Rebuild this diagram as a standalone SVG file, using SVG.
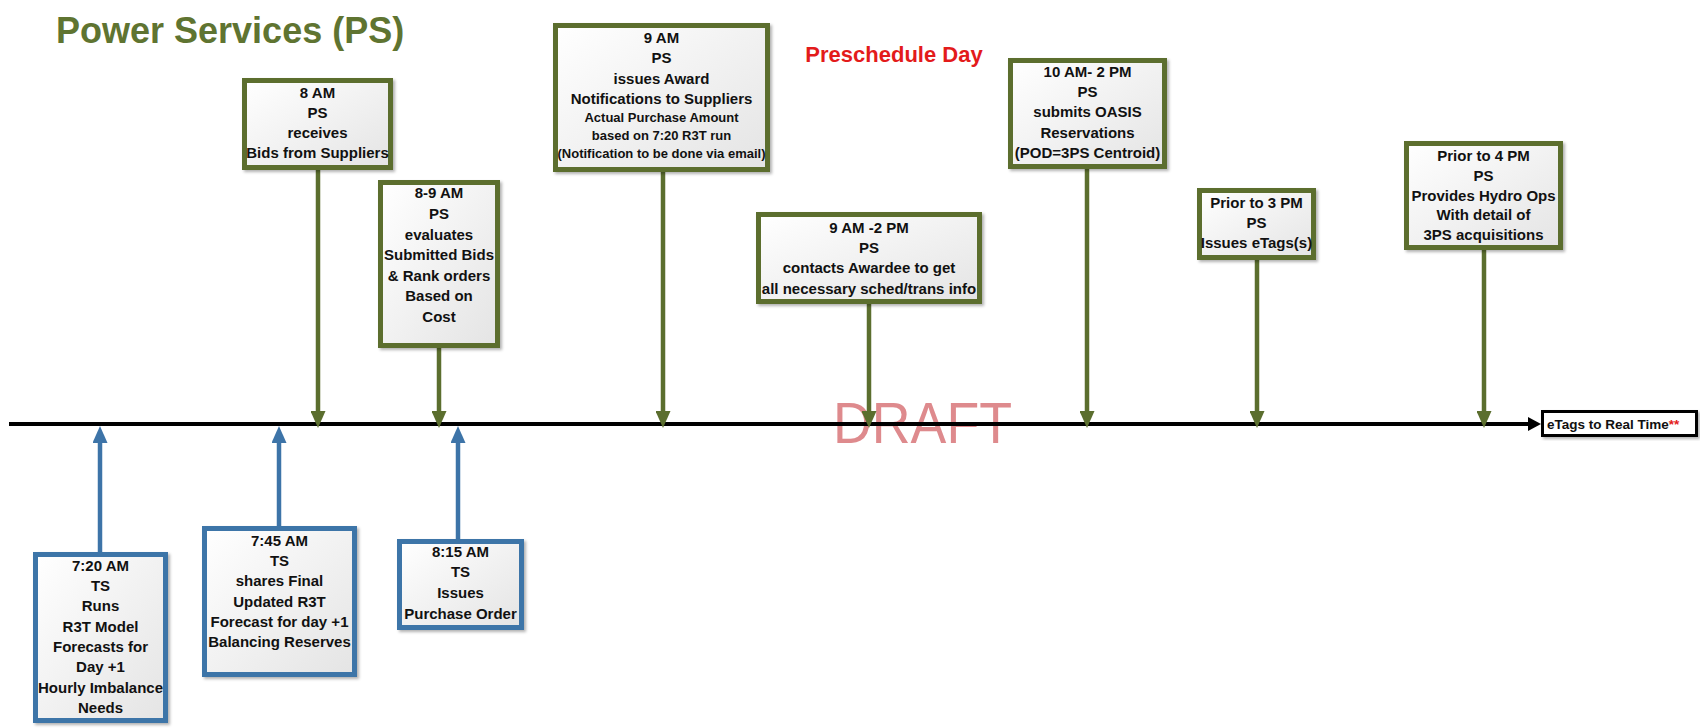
<svg xmlns="http://www.w3.org/2000/svg" width="1700" height="728" viewBox="0 0 1700 728">
<style>
  .title{font-family:"Liberation Sans",Arial,sans-serif;font-weight:bold;font-size:36px;fill:#5F7431}
  .pre{font-family:"Liberation Sans",Arial,sans-serif;font-weight:bold;font-size:22px;fill:#E31B1B}
  .draft{font-family:"Liberation Sans",Arial,sans-serif;font-size:57px;fill:#DB7E81;opacity:0.9}
  .gbox{fill:url(#fillG);stroke:#5B6E2E;stroke-width:5;filter:url(#sh)}
  .bbox{fill:url(#fillG);stroke:#3D74A8;stroke-width:5;filter:url(#sh)}
  .t{font-family:"Liberation Sans",Arial,sans-serif;font-weight:bold;font-size:15px;fill:#111;text-anchor:middle}
  .s{font-size:13px}
  .gl{stroke:#5B6E2E;stroke-width:4.5;fill:none;marker-end:url(#ag)}
  .bl{stroke:#3D74A8;stroke-width:4.5;fill:none;marker-end:url(#ab)}
  .tl{stroke:#000;stroke-width:4;fill:none;marker-end:url(#ak)}
  .ebox{fill:#fff;stroke:#000;stroke-width:3;filter:url(#sh)}
  .et{font-family:"Liberation Sans",Arial,sans-serif;font-weight:bold;font-size:13.5px;fill:#111}
</style>
<defs>
  <linearGradient id="fillG" x1="0" y1="0" x2="1" y2="1">
    <stop offset="0" stop-color="#ffffff"/>
    <stop offset="1" stop-color="#e4e4e4"/>
  </linearGradient>
  <filter id="sh" x="-10%" y="-10%" width="130%" height="130%">
    <feDropShadow dx="2" dy="2" stdDeviation="1.5" flood-color="#000" flood-opacity="0.3"/>
  </filter>
  <marker id="ag" markerUnits="userSpaceOnUse" markerWidth="17" markerHeight="15" refX="0" refY="7.5" orient="auto">
    <path d="M0,0 L17,7.5 L0,15 z" fill="#5B6E2E"/>
  </marker>
  <marker id="ab" markerUnits="userSpaceOnUse" markerWidth="17" markerHeight="15" refX="0" refY="7.5" orient="auto">
    <path d="M0,0 L17,7.5 L0,15 z" fill="#3D74A8"/>
  </marker>
  <marker id="ak" markerUnits="userSpaceOnUse" markerWidth="13" markerHeight="14" refX="0" refY="7" orient="auto">
    <path d="M0,0 L13,7 L0,14 z" fill="#000"/>
  </marker>
</defs>
<rect width="1700" height="728" fill="#fff"/>

<text class="title" x="56" y="43">Power Services (PS)</text>
<text class="pre" x="894" y="62" text-anchor="middle">Preschedule Day</text>
<text class="draft" x="833" y="443" textLength="179" lengthAdjust="spacingAndGlyphs">DRAFT</text>

<g id="connectors">
  <line class="tl" x1="9" y1="424" x2="1528" y2="424"/>
  <line class="gl" x1="318" y1="170" x2="318" y2="411"/>
  <line class="gl" x1="439" y1="348" x2="439" y2="411"/>
  <line class="gl" x1="663" y1="172" x2="663" y2="411"/>
  <line class="gl" x1="869" y1="304" x2="869" y2="411"/>
  <line class="gl" x1="1087" y1="169" x2="1087" y2="411"/>
  <line class="gl" x1="1257" y1="260" x2="1257" y2="411"/>
  <line class="gl" x1="1484" y1="250" x2="1484" y2="411"/>
  <line class="bl" x1="100" y1="552" x2="100" y2="443"/>
  <line class="bl" x1="279" y1="526" x2="279" y2="443"/>
  <line class="bl" x1="458" y1="539" x2="458" y2="443"/>
</g>

<g id="n-8am">
  <rect class="gbox" x="244.5" y="80.5" width="146" height="87"/>
  <text class="t" x="317.5" y="98">8 AM</text>
  <text class="t" x="317.5" y="118">PS</text>
  <text class="t" x="317.5" y="138">receives</text>
  <text class="t" x="317.5" y="158">Bids from Suppliers</text>
</g>

<g id="n-8-9am">
  <rect class="gbox" x="380.5" y="182.5" width="117" height="163"/>
  <text class="t" x="439" y="198">8-9 AM</text>
  <text class="t" x="439" y="219">PS</text>
  <text class="t" x="439" y="240">evaluates</text>
  <text class="t" x="439" y="260">Submitted Bids</text>
  <text class="t" x="439" y="281">&amp; Rank orders</text>
  <text class="t" x="439" y="301">Based on</text>
  <text class="t" x="439" y="322">Cost</text>
</g>

<g id="n-9am">
  <rect class="gbox" x="555.5" y="25.5" width="212" height="144"/>
  <text class="t" x="661.5" y="43">9 AM</text>
  <text class="t" x="661.5" y="63">PS</text>
  <text class="t" x="661.5" y="84">issues Award</text>
  <text class="t" x="661.5" y="104">Notifications to Suppliers</text>
  <text class="t s" x="661.5" y="122">Actual Purchase Amount</text>
  <text class="t s" x="661.5" y="140">based on 7:20 R3T run</text>
  <text class="t s" x="661.5" y="158">(Notification to be done via email)</text>
</g>

<g id="n-9am-2pm">
  <rect class="gbox" x="758.5" y="214.5" width="221" height="87"/>
  <text class="t" x="869" y="233">9 AM -2 PM</text>
  <text class="t" x="869" y="253">PS</text>
  <text class="t" x="869" y="273">contacts Awardee to get</text>
  <text class="t" x="869" y="294">all necessary sched/trans info</text>
</g>

<g id="n-10am-2pm">
  <rect class="gbox" x="1010.5" y="60.5" width="154" height="106"/>
  <text class="t" x="1087.5" y="77">10 AM- 2 PM</text>
  <text class="t" x="1087.5" y="97">PS</text>
  <text class="t" x="1087.5" y="117">submits OASIS</text>
  <text class="t" x="1087.5" y="138">Reservations</text>
  <text class="t" x="1087.5" y="158">(POD=3PS Centroid)</text>
</g>

<g id="n-prior3">
  <rect class="gbox" x="1199.5" y="190.5" width="114" height="67"/>
  <text class="t" x="1256.5" y="208">Prior to 3 PM</text>
  <text class="t" x="1256.5" y="228">PS</text>
  <text class="t" x="1256.5" y="248">Issues eTags(s)</text>
</g>

<g id="n-prior4">
  <rect class="gbox" x="1406.5" y="143.5" width="154" height="104"/>
  <text class="t" x="1483.5" y="161">Prior to 4 PM</text>
  <text class="t" x="1483.5" y="181">PS</text>
  <text class="t" x="1483.5" y="201">Provides Hydro Ops</text>
  <text class="t" x="1483.5" y="220">With detail of</text>
  <text class="t" x="1483.5" y="240">3PS acquisitions</text>
</g>

<g id="n-720">
  <rect class="bbox" x="35.5" y="554.5" width="130" height="166"/>
  <text class="t" x="100.5" y="571">7:20 AM</text>
  <text class="t" x="100.5" y="591">TS</text>
  <text class="t" x="100.5" y="611">Runs</text>
  <text class="t" x="100.5" y="632">R3T Model</text>
  <text class="t" x="100.5" y="652">Forecasts for</text>
  <text class="t" x="100.5" y="672">Day +1</text>
  <text class="t" x="100.5" y="693">Hourly Imbalance</text>
  <text class="t" x="100.5" y="713">Needs</text>
</g>

<g id="n-745">
  <rect class="bbox" x="204.5" y="528.5" width="150" height="146"/>
  <text class="t" x="279.5" y="546">7:45 AM</text>
  <text class="t" x="279.5" y="566">TS</text>
  <text class="t" x="279.5" y="586">shares Final</text>
  <text class="t" x="279.5" y="607">Updated R3T</text>
  <text class="t" x="279.5" y="627">Forecast for day +1</text>
  <text class="t" x="279.5" y="647">Balancing Reserves</text>
</g>

<g id="n-815">
  <rect class="bbox" x="399.5" y="541.5" width="122" height="86"/>
  <text class="t" x="460.5" y="557">8:15 AM</text>
  <text class="t" x="460.5" y="577">TS</text>
  <text class="t" x="460.5" y="598">Issues</text>
  <text class="t" x="460.5" y="619">Purchase Order</text>
</g>

<g id="n-etags">
  <rect class="ebox" x="1542.5" y="411.5" width="154" height="24"/>
  <text class="et" x="1547" y="429">eTags to Real Time<tspan fill="#E31B1B">**</tspan></text>
</g>
</svg>
